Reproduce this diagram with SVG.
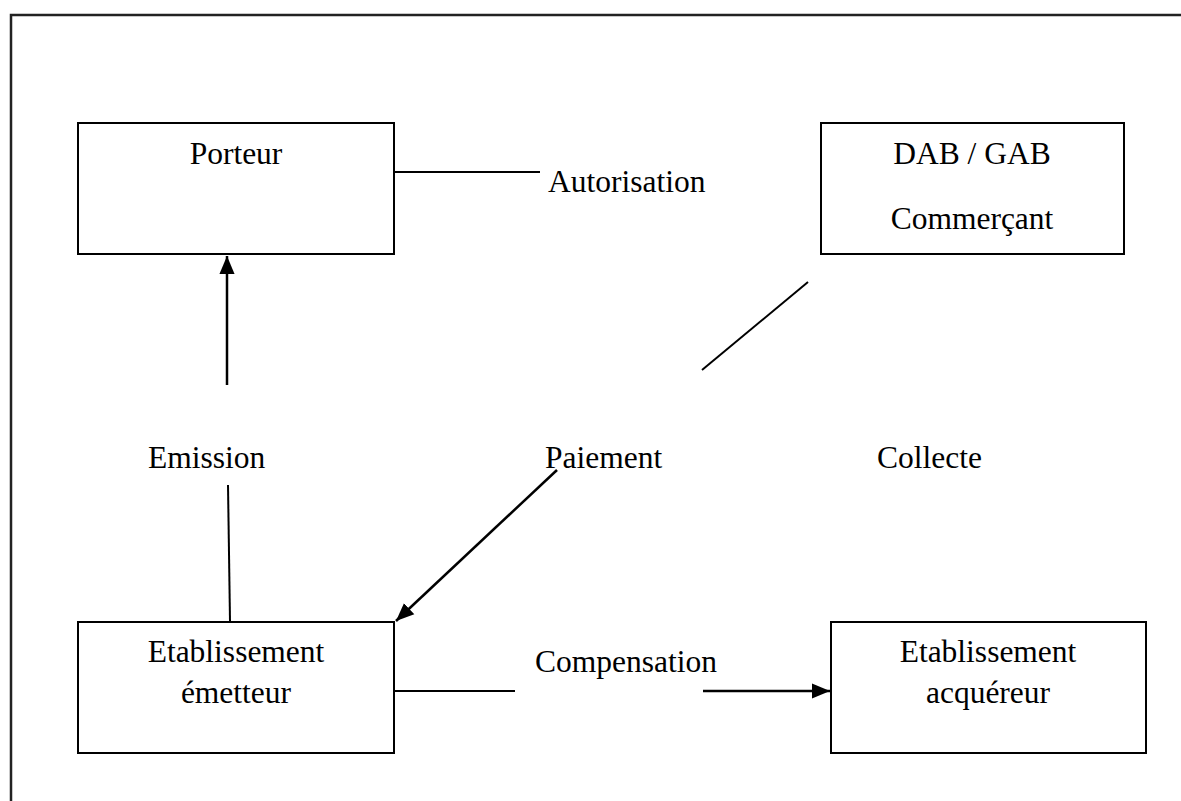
<svg xmlns="http://www.w3.org/2000/svg" width="1181" height="801" viewBox="0 0 1181 801">
<style>
.box{fill:#fff;stroke:#000;stroke-width:2}
.ln{fill:none;stroke:#000;stroke-width:2}
.ar{fill:none;stroke:#000;stroke-width:2.5}
text{font-family:"Liberation Serif","Times New Roman",serif;font-size:31.5px;fill:#000}
.c{text-anchor:middle}
</style>
<defs>
<marker id="ah2" viewBox="0 0 10 10" refX="10" refY="5" markerWidth="18" markerHeight="18" markerUnits="userSpaceOnUse" orient="auto">
<path d="M0,0.8 L10,5 L0,9.2 Z" fill="#000"/>
</marker>
</defs>
<rect width="1181" height="801" fill="#fff"/>
<g id="frame">
<path d="M11,801 L11,15 L1181,15" fill="none" stroke="#222" stroke-width="2.5"/>
</g>
<g id="connectors">
<line class="ln" x1="394" y1="172" x2="540" y2="172"/>
<line class="ln" x1="808" y1="282" x2="702" y2="370"/>
<line class="ar" x1="227" y1="385" x2="227" y2="256" marker-end="url(#ah2)"/>
<line class="ln" x1="228" y1="485" x2="230" y2="621"/>
<line class="ar" x1="557" y1="470" x2="396" y2="621" marker-end="url(#ah2)"/>
<line class="ln" x1="394" y1="691" x2="515" y2="691"/>
<line class="ar" x1="703" y1="691" x2="830" y2="691" marker-end="url(#ah2)"/>
</g>
<g id="porteur">
<rect class="box" x="78" y="123" width="316" height="131"/>
<text class="c" x="236" y="164">Porteur</text>
</g>
<g id="dab">
<rect class="box" x="821" y="123" width="303" height="131"/>
<text class="c" x="972" y="164">DAB / GAB</text>
<text class="c" x="972" y="229">Commerçant</text>
</g>
<g id="emetteur">
<rect class="box" x="78" y="622" width="316" height="131"/>
<text class="c" x="236" y="662">Etablissement</text>
<text class="c" x="236" y="703">émetteur</text>
</g>
<g id="acquereur">
<rect class="box" x="831" y="622" width="315" height="131"/>
<text class="c" x="988" y="662">Etablissement</text>
<text class="c" x="988" y="703">acquéreur</text>
</g>
<g id="labels">
<text x="548" y="192">Autorisation</text>
<text x="148" y="468">Emission</text>
<text x="545" y="468">Paiement</text>
<text x="877" y="468">Collecte</text>
<text x="535" y="672">Compensation</text>
</g>
</svg>
